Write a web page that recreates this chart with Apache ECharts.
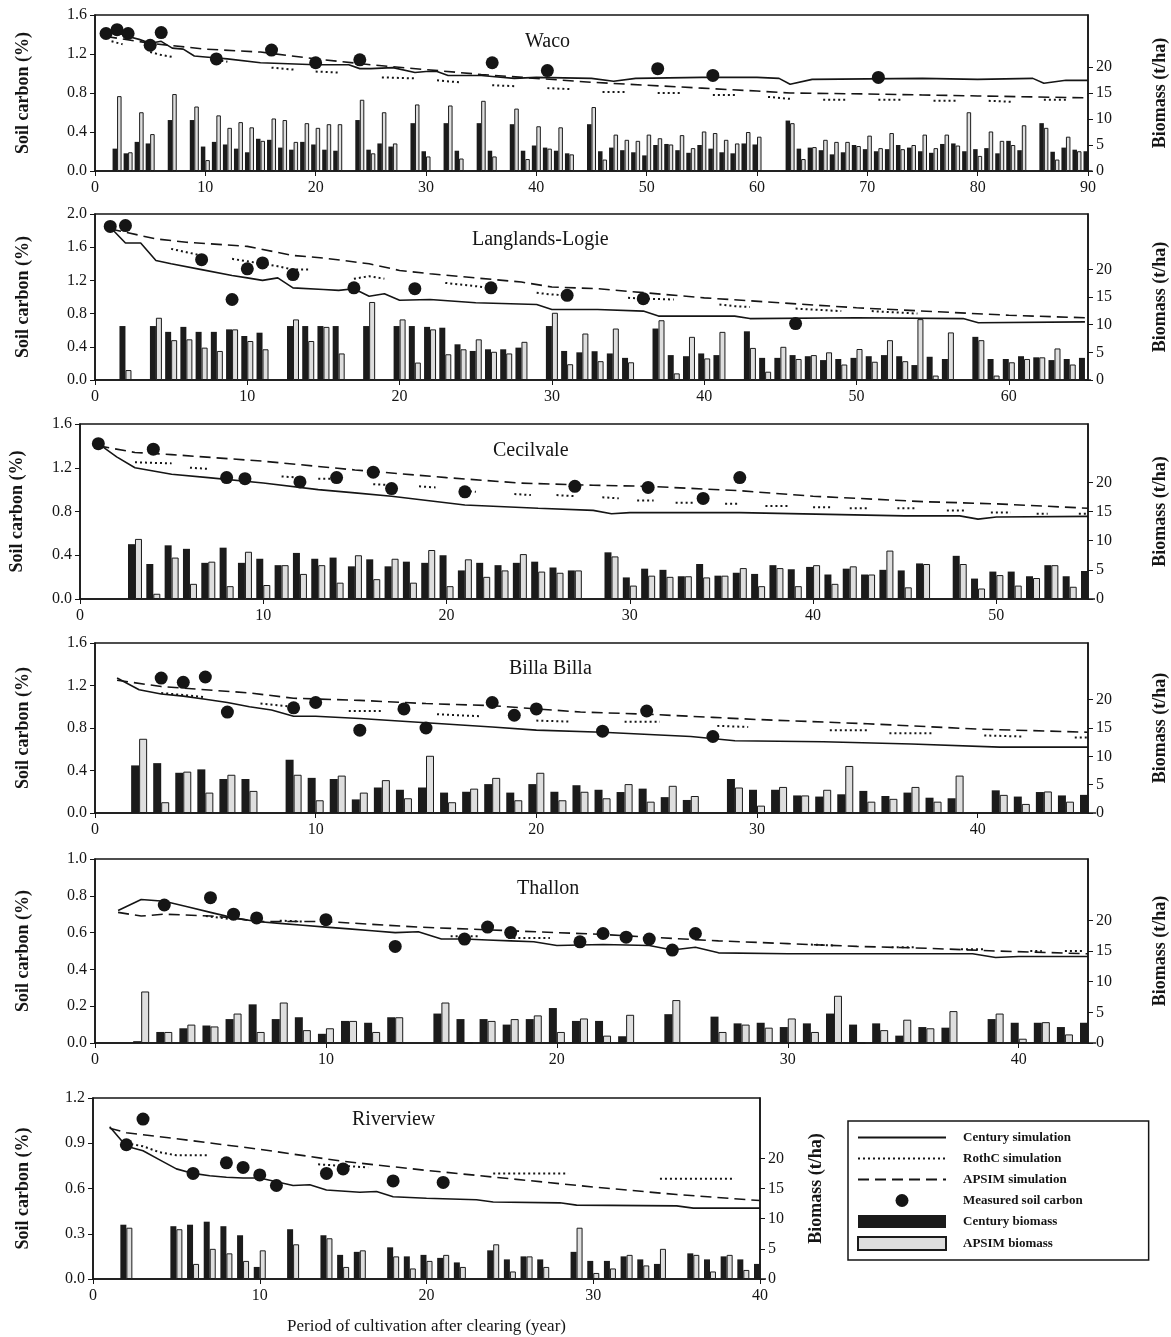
<!DOCTYPE html>
<html>
<head>
<meta charset="utf-8">
<script src="https://cdn.jsdelivr.net/npm/echarts@6.0.0/dist/echarts.min.js"></script>
<style>
  html, body { margin: 0; padding: 0; background: #fff; }
  #chart { width: 1171px; height: 1337px; }
</style>
</head>
<body>
<div id="chart"></div>
<script>
// ---- Waco ----
var wacoBarYears = [2,3,4,5,7,9,10,11,12,13,14,15,16,17,18,19,20,21,22,24,25,26,27,29,30,32,33,35,36,38,39,40,41,42,43,
  45,46,47,48,49,50,51,52,53,54,55,56,57,58,59,60,63,64,65,66,67,68,69,70,71,72,73,74,75,76,77,78,79,80,81,82,83,84,86,87,88,89,90];
var wacoCenturyBio = [4.3,3.4,5.6,5.3,9.8,9.8,4.7,5.6,5.1,4.3,3.6,6.2,6.0,4.5,4.1,5.6,5.1,4.1,3.9,9.8,4.1,5.3,4.7,9.2,3.8,9.2,3.9,9.2,3.9,9.0,3.9,4.9,4.5,3.9,3.4,
  9.0,3.8,4.5,4.0,3.6,3.0,5.0,5.2,4.0,3.5,5.0,4.3,3.6,3.4,5.3,5.1,9.7,4.3,4.5,4.0,3.2,3.6,5.0,4.2,3.8,4.2,5.0,4.5,3.8,3.5,5.2,5.3,3.8,4.2,4.4,3.4,5.8,4.0,9.2,3.7,4.5,4.1,3.8];
var wacoApsimBio = [14.4,3.6,11.3,7.1,14.8,12.4,2.1,10.7,8.3,9.4,8.4,5.8,10.1,9.8,5.6,9.2,8.3,9.0,9.0,13.7,3.4,11.3,5.3,12.8,2.8,12.6,2.4,13.5,2.8,12.0,2.3,8.6,4.3,8.4,3.2,
  12.3,2.2,7.0,6.0,5.8,7.0,6.3,5.1,6.9,4.4,7.6,7.3,6.0,5.3,7.5,6.6,9.2,2.3,4.6,6.0,5.6,5.6,4.8,6.8,4.4,7.3,4.2,5.0,7.0,4.4,7.0,4.9,11.3,2.9,7.6,5.8,5.0,8.8,8.3,2.2,6.6,3.8,0];
var wacoCentury = [[1,1.40],[2,1.42],[3,1.38],[4,1.35],[5,1.31],[6,1.33],[7,1.26],[8,1.25],[9,1.18],[10,1.17],[12,1.15],[15,1.11],[20,1.09],[23,1.09],[24,1.05],[25,1.05],[27,1.06],
  [29,1.01],[30,1.02],[31,1.02],[32,0.98],[35,0.98],[36,0.97],[38,0.95],[40,0.96],[45,0.95],[47,0.92],[49,0.95],[55,0.96],[60,0.96],[62,0.95],[63,0.89],[65,0.94],[75,0.95],
  [80,0.94],[85,0.95],[86,0.90],[88,0.93],[90,0.93]];
var wacoApsim = [[1,1.38],[5,1.31],[10,1.25],[15,1.22],[20,1.15],[25,1.09],[30,1.04],[35,0.99],[40,0.95],[45,0.91],[50,0.88],[55,0.85],[60,0.82],[63,0.80],[70,0.79],[75,0.78],[80,0.77],[85,0.76],[90,0.75]];
var wacoRothC = [[[1.5,1.33],[2.5,1.30]],[[5,1.22],[6,1.19],[7,1.17]],[[11,1.14],[12,1.12]],[[16,1.06],[18,1.04]],[[20,1.02],[22,1.01]],[[26,0.96],[29,0.95]],
  [[31,0.93],[33,0.91]],[[36,0.88],[38,0.87]],[[41,0.85],[43,0.84]],[[46,0.81],[48,0.81]],[[51,0.80],[53,0.80]],[[56,0.78],[58,0.78]],[[61,0.76],[63,0.74]],
  [[66,0.73],[68,0.73]],[[71,0.73],[73,0.73]],[[76,0.72],[78,0.72]],[[81,0.72],[83,0.71]],[[86,0.73],[88,0.73]]];
var wacoMeasured = [[1,1.41],[2,1.45],[3,1.41],[5,1.29],[6,1.42],[11,1.15],[16,1.24],[20,1.11],[24,1.14],[36,1.11],[41,1.03],[51,1.05],[56,0.98],[71,0.96]];

// ---- Langlands-Logie ----
var langBarYears = [2,4,5,6,7,8,9,10,11,13,14,15,16,18,20,21,22,23,24,25,26,27,28,30,31,32,33,34,35,37,38,39,40,41,43,44,45,46,47,48,49,50,51,52,53,54,55,56,58,59,60,61,62,63,64,65];
var langCenturyBio = [9.75,9.75,8.7,9.6,8.7,8.7,9.15,7.95,8.55,9.75,9.75,9.75,9.75,9.75,9.75,9.75,9.6,9.45,6.45,5.25,5.55,5.55,5.85,9.75,5.25,5.0,5.2,4.8,4.0,9.3,4.5,4.3,4.8,4.5,
  8.8,4.0,4.0,4.5,4.3,3.6,3.8,4.0,4.3,4.5,4.3,2.7,4.2,3.8,7.8,3.8,3.8,4.3,4.1,3.6,3.8,4.0];
var langApsimBio = [1.8,11.25,7.2,7.35,5.85,5.25,9.15,7.05,5.55,10.95,7.05,9.6,4.8,14.1,10.95,3.15,9.15,4.65,5.55,7.35,5.1,4.8,6.9,12.15,2.85,8.4,3.4,9.3,3.2,10.8,1.2,7.8,3.9,8.7,
  5.8,1.5,6.0,3.8,4.5,5.0,2.8,5.6,3.3,7.2,3.4,11.0,0.8,8.6,7.2,0.8,3.2,3.8,4.1,5.7,2.8,0];
var langCentury = [[1,1.84],[2,1.65],[3,1.65],[4,1.44],[5,1.40],[7,1.33],[9,1.26],[10,1.23],[11,1.20],[12,1.23],[13,1.11],[15,1.09],[16,1.08],[17,1.10],[18,1.01],[19,1.04],[20,0.96],
  [22,0.97],[25,0.93],[29,0.91],[30,0.85],[33,0.85],[36,0.83],[37,0.77],[42,0.77],[43,0.74],[50,0.75],[57,0.74],[58,0.69],[65,0.70]];
var langApsim = [[1,1.82],[2,1.78],[4,1.70],[6,1.66],[10,1.61],[13,1.50],[15,1.47],[18,1.40],[20,1.32],[22,1.28],[25,1.23],[28,1.18],[30,1.12],[33,1.10],[40,0.99],[50,0.87],[60,0.78],[65,0.75]];
var langRothC = [[[5,1.58],[6,1.54],[7,1.50]],[[9,1.46],[10,1.43],[11,1.40],[12,1.37],[13,1.33],[14,1.33]],[[17,1.22],[18,1.25],[19,1.22]],[[23,1.17],[24,1.15],[25,1.13],[26,1.11]],
  [[29,1.05],[30,1.03],[31,1.02]],[[35,0.99],[36,0.98],[38,0.97]],[[41,0.91],[42,0.89],[43,0.88]],[[46,0.86],[47,0.85],[49,0.83]],[[51,0.83],[54,0.80]]];
var langMeasured = [[1,1.85],[2,1.86],[7,1.45],[9,0.97],[10,1.34],[11,1.41],[13,1.27],[17,1.11],[21,1.10],[26,1.11],[31,1.02],[36,0.98],[46,0.68]];

// ---- Cecilvale ----
var cecBarYears = [3,4,5,6,7,8,9,10,11,12,13,14,15,16,17,18,19,20,21,22,23,24,25,26,27,29,30,31,32,33,34,35,36,37,38,39,40,41,42,43,44,45,46,48,49,50,51,52,53,54,55];
var cecCenturyBio = [9.4,6.0,9.2,8.6,6.2,8.8,6.2,6.9,5.8,7.9,6.9,7.1,5.6,6.8,5.6,6.4,6.2,7.5,4.9,6.2,5.8,6.2,6.4,5.4,4.9,
  8.0,3.7,5.2,5.0,3.9,6.0,4.0,4.5,4.3,5.8,5.1,5.5,4.2,5.2,4.2,5.0,4.9,6.1,7.4,3.5,4.7,4.7,3.9,5.8,3.9,4.8];
var cecApsimBio = [10.3,0.9,7.1,2.6,6.4,2.2,8.1,2.4,5.8,4.3,5.8,2.8,7.5,3.4,6.9,2.8,8.4,2.2,6.8,3.8,4.9,7.7,4.7,4.5,4.9,
  7.3,2.3,4.0,3.8,3.9,3.7,4.0,5.3,2.2,5.3,2.2,5.8,2.6,5.6,4.2,8.3,2.0,6.0,6.0,1.8,4.1,2.3,3.6,5.8,2.1,0];
var cecCentury = [[1,1.42],[2,1.30],[3,1.20],[4,1.17],[5,1.14],[7,1.11],[10,1.06],[13,1.00],[15,0.97],[17,0.94],[21,0.86],[25,0.83],[28,0.81],[29,0.78],[30,0.79],[36,0.79],
  [45,0.76],[48,0.76],[49,0.73],[50,0.75],[55,0.755]];
var cecApsim = [[1,1.40],[3,1.34],[5,1.32],[10,1.26],[15,1.18],[20,1.11],[24,1.06],[28,1.04],[31,1.03],[36,0.99],[40,0.94],[46,0.89],[50,0.87],[55,0.83]];
var cecRothC = [[[3,1.25],[5,1.24]],[[6,1.20],[7,1.19]],[[11,1.12],[12,1.11]],[[13,1.10],[14,1.10]],[[16,1.05],[17,1.04]],[[18.5,1.03],[19.4,1.02]],[[21,0.99],[21.6,0.98]],
  [[23.7,0.96],[24.6,0.95]],[[26,0.95],[27,0.94]],[[28.5,0.93],[29.4,0.92]],[[30.4,0.90],[31.3,0.90]],[[32.5,0.88],[33.5,0.88]],[[35.2,0.87],[36,0.87]],[[37.4,0.85],[38.7,0.85]],
  [[40,0.84],[41,0.84]],[[42,0.83],[43,0.83]],[[44.6,0.83],[45.6,0.83]],[[47.3,0.81],[48.3,0.81]],[[49.7,0.79],[50.8,0.79]],[[52.2,0.78],[52.8,0.78]],[[54.5,0.78],[55,0.78]]];
var cecMeasured = [[1,1.42],[4,1.37],[8,1.11],[9,1.10],[12,1.07],[14,1.11],[16,1.16],[17,1.01],[21,0.98],[27,1.03],[31,1.02],[34,0.92],[36,1.11]];

// ---- Billa Billa ----
var billaBarYears = [2,3,4,5,6,7,9,10,11,12,13,14,15,16,17,18,19,20,21,22,23,24,25,26,27,29,30,31,32,33,34,35,36,37,38,39,41,42,43,44,45];
var billaCenturyBio = [8.4,8.8,7.1,7.7,6.0,6.0,9.4,6.2,6.0,2.4,4.5,4.1,4.5,3.6,3.75,5.1,3.6,5.1,3.75,4.9,4.1,3.7,4.3,2.8,2.3,6.0,4.1,4.1,3.1,2.9,3.3,3.9,3.0,3.6,2.7,2.6,4.0,2.9,3.7,3.1,3.2];
var billaApsimBio = [13.1,1.9,7.3,3.6,6.75,3.9,6.75,2.25,6.6,3.6,5.8,2.6,10.1,1.9,4.3,6.2,2.25,7.1,2.25,3.75,2.6,5.1,2.0,4.8,3.0,4.5,1.3,4.6,3.1,4.1,8.3,2.0,2.5,4.6,2.0,6.6,3.2,1.6,3.8,2.0,0];
var billaCentury = [[1,1.27],[2,1.16],[3,1.12],[4,1.10],[5,1.07],[6,1.04],[7,1.00],[8,0.97],[9,0.91],[10,0.91],[12,0.89],[15,0.85],[18,0.81],[20,0.78],[23,0.76],[27,0.72],[29,0.68],
  [33,0.67],[37,0.65],[41,0.62],[45,0.62]];
var billaApsim = [[1,1.25],[3,1.19],[5,1.16],[7,1.13],[9,1.08],[12,1.06],[15,1.03],[18,1.01],[20,0.98],[22,0.95],[25,0.93],[28,0.90],[30,0.88],[35,0.84],[40,0.79],[45,0.76]];
var billaRothC = [[[3,1.13],[4,1.11],[5,1.09]],[[7.5,1.03],[9,1.00]],[[11.5,0.96],[13,0.96]],[[15.5,0.93],[17.5,0.91]],[[20,0.87],[21.5,0.86]],[[24,0.86],[25.6,0.86]],
  [[28.2,0.82],[29.6,0.81]],[[33.3,0.78],[35,0.78]],[[36,0.75],[38,0.75]],[[40.3,0.73],[42,0.72]],[[44.4,0.71],[45,0.71]]];
var billaMeasured = [[3,1.27],[4,1.23],[5,1.28],[6,0.95],[9,0.99],[10,1.04],[12,0.78],[14,0.98],[15,0.80],[18,1.04],[19,0.92],[20,0.98],[23,0.77],[25,0.96],[28,0.72]];

// ---- Thallon ----
var thalBarYears = [2,3,4,5,6,7,8,9,10,11,12,13,15,16,17,18,19,20,21,22,23,25,27,28,29,30,31,32,33,34,35,36,37,39,40,41,42,43];
var thalCenturyBio = [0.3,1.8,2.4,2.85,3.9,6.3,3.9,4.2,1.5,3.6,3.3,4.2,4.8,3.9,3.9,3.0,3.9,5.7,3.6,3.6,1.1,4.7,4.3,3.2,3.3,2.6,3.2,4.8,3.0,3.2,1.2,2.6,2.5,3.9,3.3,3.3,2.6,3.3];
var thalApsimBio = [8.4,1.8,3.0,2.7,4.8,1.8,6.6,2.1,2.4,3.6,1.8,4.2,6.6,0,3.6,3.9,4.5,1.8,4.0,1.2,4.6,7.0,1.8,3.0,2.5,4.0,1.8,7.7,0,2.1,3.8,2.4,5.2,4.8,0.7,3.4,1.4,0];
var thalCentury = [[1,0.72],[2,0.78],[3,0.77],[4,0.74],[5,0.71],[6,0.68],[7,0.66],[8,0.65],[9,0.64],[10,0.63],[11,0.62],[12,0.61],[13,0.60],[14,0.605],[15,0.565],[16,0.565],
  [17,0.56],[18,0.555],[19,0.55],[20,0.53],[22,0.535],[24,0.53],[25,0.505],[26,0.52],[27,0.49],[30,0.485],[36,0.485],[38,0.485],[39,0.465],[40,0.47],[43,0.47]];
var thalApsim = [[1,0.71],[2,0.69],[3,0.70],[5,0.69],[6,0.68],[7,0.66],[8,0.66],[10,0.66],[14,0.63],[17,0.615],[22,0.59],[24,0.575],[27,0.555],[30,0.54],[33,0.525],[36,0.515],[39,0.50],[43,0.485]];
var thalRothC = [[[4.8,0.69],[6.1,0.67]],[[8,0.665],[9,0.66]],[[15.4,0.58],[16.7,0.58]],[[17.9,0.57],[19.7,0.57]],[[31,0.535],[32,0.53]],[[34.5,0.52],[35.5,0.52]],
  [[37.5,0.51],[38.5,0.51]],[[40.5,0.50],[41,0.50]],[[42,0.50],[42.8,0.50]]];
var thalMeasured = [[3,0.75],[5,0.79],[6,0.70],[7,0.68],[10,0.67],[13,0.525],[16,0.565],[17,0.63],[18,0.60],[21,0.55],[22,0.595],[23,0.575],[24,0.565],[25,0.505],[26,0.595]];

// ---- Riverview ----
var rivBarYears = [2,5,6,7,8,9,10,12,14,15,16,18,19,20,21,22,24,25,26,27,29,30,31,32,33,34,36,37,38,39,40];
var rivCenturyBio = [9.0,8.75,9.0,9.5,8.75,7.25,2.0,8.25,7.25,4.0,4.5,5.25,3.75,4.0,3.5,2.75,4.75,3.25,3.75,3.25,4.5,3.0,3.0,3.75,3.25,2.5,4.25,3.25,3.75,3.25,2.5];
var rivApsimBio = [8.5,8.25,2.5,5.0,4.25,3.0,4.75,5.75,6.75,2.0,4.75,3.75,1.75,3.0,4.0,2.0,5.75,1.25,3.75,2.0,8.5,1.0,1.75,4.0,2.25,5.0,4.0,1.25,4.0,1.5,0];
var rivCentury = [[1,1.01],[2,0.88],[3,0.85],[4,0.79],[5,0.73],[6,0.70],[7,0.685],[8,0.675],[9,0.67],[10,0.67],[11,0.645],[12,0.62],[13,0.625],[14,0.59],[16,0.575],[17,0.58],
  [18,0.545],[20,0.535],[23,0.525],[24,0.51],[28,0.505],[29,0.49],[35,0.485],[36,0.47],[40,0.47]];
var rivApsim = [[1,1.00],[2,0.97],[5,0.93],[10,0.86],[15,0.78],[20,0.72],[25,0.665],[30,0.61],[35,0.56],[40,0.52]];
var rivRothC = [[[2,0.90],[3,0.88],[4,0.84],[5,0.82],[7,0.82]],[[13.5,0.76],[16.5,0.74]],[[24,0.70],[28.5,0.70]],[[34,0.665],[38.5,0.665]]];
var rivMeasured = [[2,0.89],[3,1.06],[6,0.70],[8,0.77],[9,0.74],[10,0.69],[11,0.62],[14,0.70],[15,0.73],[18,0.65],[21,0.64]];

var biomassTicks = [0, 5, 10, 15, 20];

var panels = [
  {title: 'Waco', tx: 525, ty: 32, left: 95, top: 15, width: 993, height: 156, xMax: 90, yMax: 1.6, yStep: 0.4, barW: 4.5, rGap: 63, lGap: 63,
   years: wacoBarYears, cBio: wacoCenturyBio, aBio: wacoApsimBio, century: wacoCentury, apsim: wacoApsim, rothc: wacoRothC, measured: wacoMeasured},
  {title: 'Langlands-Logie', tx: 472, ty: 230, left: 95, top: 214, width: 993, height: 166, xMax: 65.2, yMax: 2.0, yStep: 0.4, barW: 6, rGap: 63, lGap: 63,
   years: langBarYears, cBio: langCenturyBio, aBio: langApsimBio, century: langCentury, apsim: langApsim, rothc: langRothC, measured: langMeasured},
  {title: 'Cecilvale', tx: 493, ty: 441, left: 80, top: 424, width: 1008, height: 175, xMax: 55, yMax: 1.6, yStep: 0.4, barW: 7, rGap: 63, lGap: 54,
   years: cecBarYears, cBio: cecCenturyBio, aBio: cecApsimBio, century: cecCentury, apsim: cecApsim, rothc: cecRothC, measured: cecMeasured},
  {title: 'Billa Billa', tx: 509, ty: 659, left: 95, top: 643, width: 993, height: 170, xMax: 45, yMax: 1.6, yStep: 0.4, barW: 8, rGap: 63, lGap: 63,
   years: billaBarYears, cBio: billaCenturyBio, aBio: billaApsimBio, century: billaCentury, apsim: billaApsim, rothc: billaRothC, measured: billaMeasured},
  {title: 'Thallon', tx: 517, ty: 879, left: 95, top: 859, width: 993, height: 184, xMax: 43, yMax: 1.0, yStep: 0.2, barW: 8, rGap: 63, lGap: 63,
   years: thalBarYears, cBio: thalCenturyBio, aBio: thalApsimBio, century: thalCentury, apsim: thalApsim, rothc: thalRothC, measured: thalMeasured},
  {title: 'Riverview', tx: 352, ty: 1110, left: 93, top: 1098, width: 667, height: 181, xMax: 40, yMax: 1.2, yStep: 0.3, barW: 6, rGap: 47, lGap: 61,
   years: rivBarYears, cBio: rivCenturyBio, aBio: rivApsimBio, century: rivCentury, apsim: rivApsim, rothc: rivRothC, measured: rivMeasured,
   xName: 'Period of cultivation after clearing (year)'}
];

var FONT = 'Liberation Serif';
var INK = '#151515';

function joinSegments(segs) {
  var out = [];
  segs.forEach(function (s, i) {
    if (i > 0) out.push([s[0][0], '-']);
    s.forEach(function (p) { out.push(p); });
  });
  return out;
}

var grids = [], xAxes = [], yAxes = [], series = [], titles = [];

panels.forEach(function (p, i) {
  grids.push({left: p.left, top: p.top, width: p.width, height: p.height, show: true,
    outerBoundsMode: 'none', containLabel: false,
    borderColor: INK, borderWidth: 1.5, backgroundColor: '#fff'});
  titles.push({text: p.title, left: p.tx, top: p.ty, padding: 0,
    textStyle: {fontFamily: FONT, fontSize: 20, fontWeight: 'normal', color: INK}});
  xAxes.push({type: 'value', gridIndex: i, min: 0, max: p.xMax, interval: 10,
    axisLine: {onZero: false, lineStyle: {color: INK, width: 1.5}},
    axisTick: {inside: false, length: 5, lineStyle: {color: INK}},
    axisLabel: {fontFamily: FONT, fontSize: 16, color: INK, margin: 9, showMaxLabel: p.xMax % 10 === 0},
    splitLine: {show: false},
    name: p.xName || '', nameLocation: 'middle', nameGap: 39,
    nameTextStyle: {fontFamily: FONT, fontSize: 17, color: INK}});
  yAxes.push({type: 'value', gridIndex: i, position: 'left', min: 0, max: p.yMax, interval: p.yStep,
    axisLine: {show: true, lineStyle: {color: INK, width: 1.5}},
    axisTick: {show: true, length: 5, lineStyle: {color: INK}},
    axisLabel: {fontFamily: FONT, fontSize: 16, color: INK, margin: 8,
      formatter: function (v) { return v.toFixed(1); }},
    splitLine: {show: false},
    name: 'Soil carbon (%)', nameLocation: 'middle', nameGap: p.lGap, nameRotate: 90,
    nameTextStyle: {fontFamily: FONT, fontSize: 18, fontWeight: 'bold', color: INK}});
  yAxes.push({type: 'value', gridIndex: i, position: 'right', min: 0, max: 30, interval: 5,
    axisLine: {show: true, lineStyle: {color: INK, width: 1.5}},
    axisTick: {show: true, length: 5, lineStyle: {color: INK}, customValues: biomassTicks},
    axisLabel: {fontFamily: FONT, fontSize: 16, color: INK, margin: 8, customValues: biomassTicks},
    splitLine: {show: false},
    name: 'Biomass (t/ha)', nameLocation: 'middle', nameGap: p.rGap, nameRotate: 90,
    nameTextStyle: {fontFamily: FONT, fontSize: 18, fontWeight: 'bold', color: INK}});

  var yl = 2 * i, yr = 2 * i + 1;
  series.push({name: 'Century biomass', type: 'bar', xAxisIndex: i, yAxisIndex: yr,
    barWidth: p.barW, barGap: '0%',
    data: p.years.map(function (y, k) { return [y, p.cBio[k]]; }),
    itemStyle: {color: '#1b1b1b'}, z: 2});
  series.push({name: 'APSIM biomass', type: 'bar', xAxisIndex: i, yAxisIndex: yr,
    barWidth: p.barW, barGap: '0%',
    data: p.years.map(function (y, k) { return [y, p.aBio[k]]; }),
    itemStyle: {color: '#dedede', borderColor: '#1b1b1b', borderWidth: 1}, z: 2});
  series.push({name: 'Century simulation', type: 'line', xAxisIndex: i, yAxisIndex: yl,
    data: p.century, symbol: 'none', itemStyle: {color: INK},
    lineStyle: {color: INK, width: 1.6, type: 'solid'}, z: 3});
  series.push({name: 'RothC simulation', type: 'line', xAxisIndex: i, yAxisIndex: yl,
    data: joinSegments(p.rothc), symbol: 'none', connectNulls: false, itemStyle: {color: INK},
    lineStyle: {color: INK, width: 2, type: [2, 3]}, z: 3});
  series.push({name: 'APSIM simulation', type: 'line', xAxisIndex: i, yAxisIndex: yl,
    data: p.apsim, symbol: 'none', itemStyle: {color: INK},
    lineStyle: {color: INK, width: 1.6, type: [11, 6]}, z: 3});
  series.push({name: 'Measured soil carbon', type: 'scatter', xAxisIndex: i, yAxisIndex: yl,
    data: p.measured, symbol: 'circle', symbolSize: 13, itemStyle: {color: INK, opacity: 1}, z: 4});
});

var hideDot = {opacity: 0};

var chart = echarts.init(document.getElementById('chart'), null, {renderer: 'canvas'});
chart.setOption({
  animation: false,
  backgroundColor: '#fff',
  title: titles,
  grid: grids,
  xAxis: xAxes,
  yAxis: yAxes,
  legend: {
    orient: 'vertical', left: 848, top: 1121,
    padding: [10, 66, 9, 9],
    borderColor: INK, borderWidth: 1.5,
    itemWidth: 88, itemHeight: 13, itemGap: 8,
    selectedMode: false,
    textStyle: {fontFamily: FONT, fontSize: 13, fontWeight: 'bold', color: INK, padding: [0, 0, 0, 12]},
    data: [
      {name: 'Century simulation', itemStyle: hideDot},
      {name: 'RothC simulation', itemStyle: hideDot},
      {name: 'APSIM simulation', itemStyle: hideDot},
      {name: 'Measured soil carbon', icon: 'circle'},
      {name: 'Century biomass', icon: 'rect'},
      {name: 'APSIM biomass', icon: 'rect'}
    ]
  },
  series: series
});
</script>
</body>
</html>
